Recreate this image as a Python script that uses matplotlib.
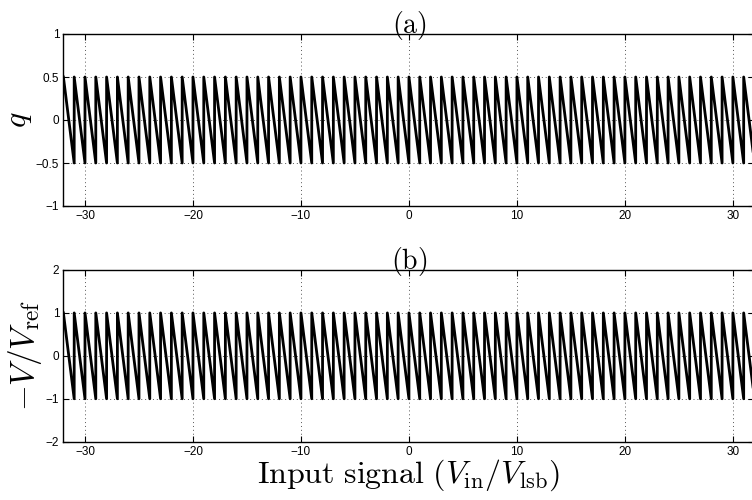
import matplotlib
matplotlib.use("Agg")
import matplotlib.pyplot as plt
import numpy as np

# ─────────────────────────────────────────────
# Datos: dientes de sierra del cuantizador
# ─────────────────────────────────────────────

# bordes de cada escalón (en LSB) sobre el rango de entrada
EDGES = list(range(-32, 33))
# error de cuantización: arriba / abajo de cada diente
Q_TOP, Q_BOT = 0.5, -0.5
# tensión normalizada de realimentación
V_TOP, V_BOT = 1.0, -1.0

X_TICKS = [-30, -20, -10, 0, 10, 20, 30]
Y_TICKS_A = [-1, -0.5, 0, 0.5, 1]
Y_TICKS_B = [-2, -1, 0, 1, 2]


def diente(edges, top, bot):
    xs, ys = [], []
    for a, b in zip(edges[:-1], edges[1:]):
        xs += [a, b]
        ys += [top, bot]
    return np.array(xs, float), np.array(ys, float)


plt.rcParams['mathtext.fontset'] = 'cm'
plt.rcParams['font.family'] = ['Liberation Sans', 'DejaVu Sans']
plt.rcParams['axes.unicode_minus'] = True

fig = plt.figure(figsize=(7.52, 5.0), dpi=100)
ax_a = fig.add_axes([0.0843, 0.588, 0.919, 0.344])
ax_b = fig.add_axes([0.0843, 0.1166, 0.919, 0.3434])


def estilo(ax, yticks, ylim):
    ax.set_xlim(-32, 32)
    ax.set_ylim(*ylim)
    ax.set_xticks(X_TICKS)
    ax.set_yticks(yticks)
    ax.set_yticklabels([f'{t:g}'.replace('-', '\u2212') for t in yticks])
    ax.set_xticklabels([f'{t:g}'.replace('-', '\u2212') for t in X_TICKS])
    ax.tick_params(direction='in', length=4, width=0.8, labelsize=8.5,
                   top=True, right=True, pad=3)
    ax.grid(True, linestyle=(0, (1, 3)), color='#555555', linewidth=0.7)
    for s in ax.spines.values():
        s.set_linewidth(1.0)


xa, ya = diente(EDGES, Q_TOP, Q_BOT)
ax_a.plot(xa, ya, color='black', linewidth=2.0)
estilo(ax_a, Y_TICKS_A, (-1, 1))
ax_a.set_title(r'$\mathrm{(a)}$', fontsize=20, pad=1)
ax_a.set_ylabel(r'$q$', fontsize=23, labelpad=1)

xb, yb = diente(EDGES, V_TOP, V_BOT)
ax_b.plot(xb, yb, color='black', linewidth=2.0)
estilo(ax_b, Y_TICKS_B, (-2, 2))
ax_b.set_title(r'$\mathrm{(b)}$', fontsize=20, pad=1)
ax_b.set_ylabel(r'$-V/V_{\rm ref}$', fontsize=24, labelpad=1)
ax_b.set_xlabel(r'$\mathrm{Input\ signal\ }(V_{\rm in}/V_{\rm lsb})$',
                fontsize=23, labelpad=0)

fig.savefig('out.png', dpi=100)
